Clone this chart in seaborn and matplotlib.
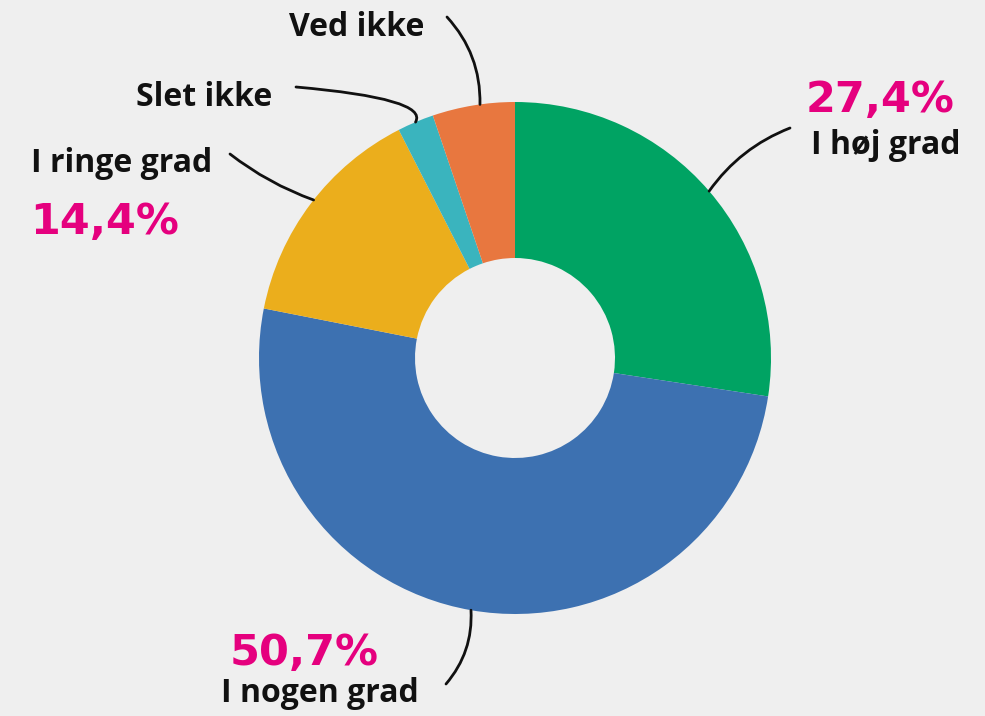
import numpy as np
import matplotlib.pyplot as plt
import seaborn as sns

# data
labels = ["I høj grad", "I nogen grad", "I ringe grad", "Slet ikke", "Ved ikke"]
values = [27.4, 50.7, 14.4, 2.3, 5.2]
pct_labels = ["27,4%", "50,7%", "14,4%", "", ""]
colors = ["#00a363", "#3d71b1", "#ebae1c", "#3ab4be", "#e8773f"]

sns.set_theme(style="white")
plt.rcParams['font.family'] = ['Open Sans', 'DejaVu Sans']

W, H = 985, 716
fig = plt.figure(figsize=(W / 100, H / 100), dpi=100)
fig.patch.set_facecolor("#efefef")
ax = fig.add_axes([0, 0, 1, 1])
ax.set_facecolor("#efefef")

cx, cy, R = 515, H - 358, 256
wedges, _ = ax.pie(values, colors=colors, startangle=90, counterclock=False,
                   center=(cx, cy), radius=R, frame=True,
                   wedgeprops=dict(width=156, linewidth=0))
ax.set_xlim(0, W)
ax.set_ylim(0, H)
ax.set_aspect("equal")
ax.axis("off")


def edge_point(w, frac=0.5, r=R):
    a = np.deg2rad(w.theta1 + (w.theta2 - w.theta1) * frac)
    return cx + r * np.cos(a), cy + r * np.sin(a)


def py(y):
    return H - y


black = "#111111"
pink = "#e5007e"
lab_fs = 23
num_fs = 31
num_font = ['DejaVu Sans']

# label texts (pixel positions from the top)
ax.text(289, py(27), "Ved ikke", fontsize=lab_fs, fontweight="bold", color=black, va="center")
ax.text(136, py(97), "Slet ikke", fontsize=lab_fs, fontweight="bold", color=black, va="center")
ax.text(31, py(163), "I ringe grad", fontsize=lab_fs, fontweight="bold", color=black, va="center")
ax.text(30, py(222), pct_labels[2], fontsize=num_fs, fontweight="bold", color=pink, va="center", family=num_font)
ax.text(806, py(100), pct_labels[0], fontsize=num_fs, fontweight="bold", color=pink, va="center", family=num_font)
ax.text(811, py(145), "I høj grad", fontsize=lab_fs, fontweight="bold", color=black, va="center")
ax.text(230, py(653), pct_labels[1], fontsize=num_fs, fontweight="bold", color=pink, va="center", family=num_font)
ax.text(221, py(693), "I nogen grad", fontsize=lab_fs, fontweight="bold", color=black, va="center")

lp = dict(arrowstyle="-", color=black, lw=2, shrinkA=0, shrinkB=0)

# leader lines
ax.annotate("", xy=edge_point(wedges[4], 0.42), xytext=(447, py(17)),
            arrowprops=dict(lp, connectionstyle="arc3,rad=-0.2"))
ax.annotate("", xy=edge_point(wedges[3], 0.5), xytext=(296, py(87)),
            arrowprops=dict(lp, connectionstyle="angle3,angleA=-5,angleB=60"))
ax.annotate("", xy=edge_point(wedges[2], 0.48), xytext=(230, py(154)),
            arrowprops=dict(lp, connectionstyle="arc3,rad=0.08"))
ax.annotate("", xy=edge_point(wedges[0], 0.5), xytext=(790, py(128)),
            arrowprops=dict(lp, connectionstyle="arc3,rad=0.15"))
ax.annotate("", xy=edge_point(wedges[1], 0.5), xytext=(446, py(684)),
            arrowprops=dict(lp, connectionstyle="arc3,rad=0.2"))

fig.savefig("out.png", dpi=100, facecolor=fig.get_facecolor())
